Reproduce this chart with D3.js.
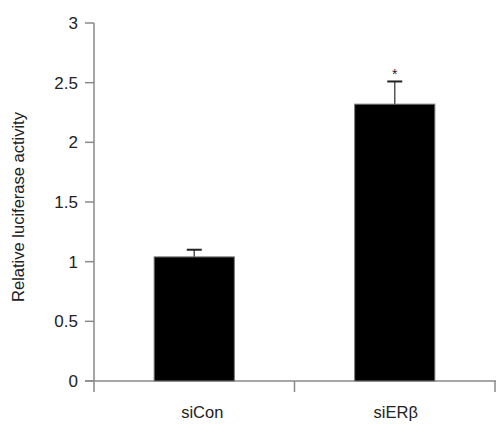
<!DOCTYPE html>
<html><head><meta charset="utf-8">
<script src="https://cdn.jsdelivr.net/npm/d3@7"></script>
<style>body{margin:0;background:#fff}svg{display:block}text{font-family:"Liberation Sans",Arial,sans-serif}</style>
</head><body>
<svg id="c" width="496" height="424"></svg>
<script>
const categories = ["siCon", "siERβ"];
const values = [1.04, 2.32];
const errors = [0.06, 0.19];
const significance = ["", "*"];
const yTicks = [0, 0.5, 1, 1.5, 2, 2.5, 3];
const yTickLabels = ["0", "0.5", "1", "1.5", "2", "2.5", "3"];
const yTitle = "Relative luciferase activity";

const svg = d3.select("#c");
const axisColor = "#8a8a8a";
const textColor = "#222";
const y = d3.scaleLinear().domain([0, 3]).range([381, 23]);
const x = d3.scaleBand().domain(categories).range([94, 495]).paddingInner(0.6).paddingOuter(0.3);

// y axis
svg.append("line").attr("x1", 94).attr("x2", 94).attr("y1", y(3)).attr("y2", 392)
  .attr("stroke", axisColor).attr("stroke-width", 1.5);
yTicks.forEach((t, i) => {
  svg.append("line").attr("x1", 85).attr("x2", 94).attr("y1", y(t)).attr("y2", y(t))
    .attr("stroke", axisColor).attr("stroke-width", 1.5);
  svg.append("text").attr("x", 78).attr("y", y(t)).attr("dy", "0.36em")
    .attr("text-anchor", "end").attr("font-size", 17).attr("fill", textColor).text(yTickLabels[i]);
});
// x axis
svg.append("line").attr("x1", 85).attr("x2", 496).attr("y1", y(0)).attr("y2", y(0))
  .attr("stroke", axisColor).attr("stroke-width", 1.5);
const step = x.step();
const x0 = x.range()[0];
for (let i = 1; i <= categories.length; i++) {
  const xx = Math.min(x0 + i * step, 495);
  svg.append("line").attr("x1", xx).attr("x2", xx).attr("y1", y(0)).attr("y2", 392)
    .attr("stroke", axisColor).attr("stroke-width", 1.5);
}

// bars
categories.forEach((c, i) => {
  const cx = x(c) + x.bandwidth() / 2;
  const top = y(values[i] + errors[i]);
  svg.append("line").attr("x1", cx).attr("x2", cx).attr("y1", y(values[i])).attr("y2", top)
    .attr("stroke", "#555").attr("stroke-width", 1.5);
  svg.append("line").attr("x1", cx - 7.5).attr("x2", cx + 7.5).attr("y1", top).attr("y2", top)
    .attr("stroke", "#222").attr("stroke-width", 2);
  svg.append("rect").attr("x", x(c)).attr("y", y(values[i])).attr("width", x.bandwidth())
    .attr("height", y(0) - y(values[i])).attr("fill", "#000").attr("stroke", "#777").attr("stroke-width", 1);
  if (significance[i]) {
    svg.append("text").attr("x", cx).attr("y", top - 2)
      .attr("text-anchor", "middle").attr("font-size", 14).attr("fill", textColor).text(significance[i]);
  }
  svg.append("text").attr("x", cx + (i === 0 ? 8 : 1)).attr("y", 418).attr("text-anchor", "middle")
    .attr("font-size", 16.5).attr("fill", textColor).text(c);
});

// y title
svg.append("text").attr("transform", `translate(24,207) rotate(-90)`)
  .attr("text-anchor", "middle").attr("font-size", 16.5).attr("fill", textColor).text(yTitle);
</script>
</body></html>
